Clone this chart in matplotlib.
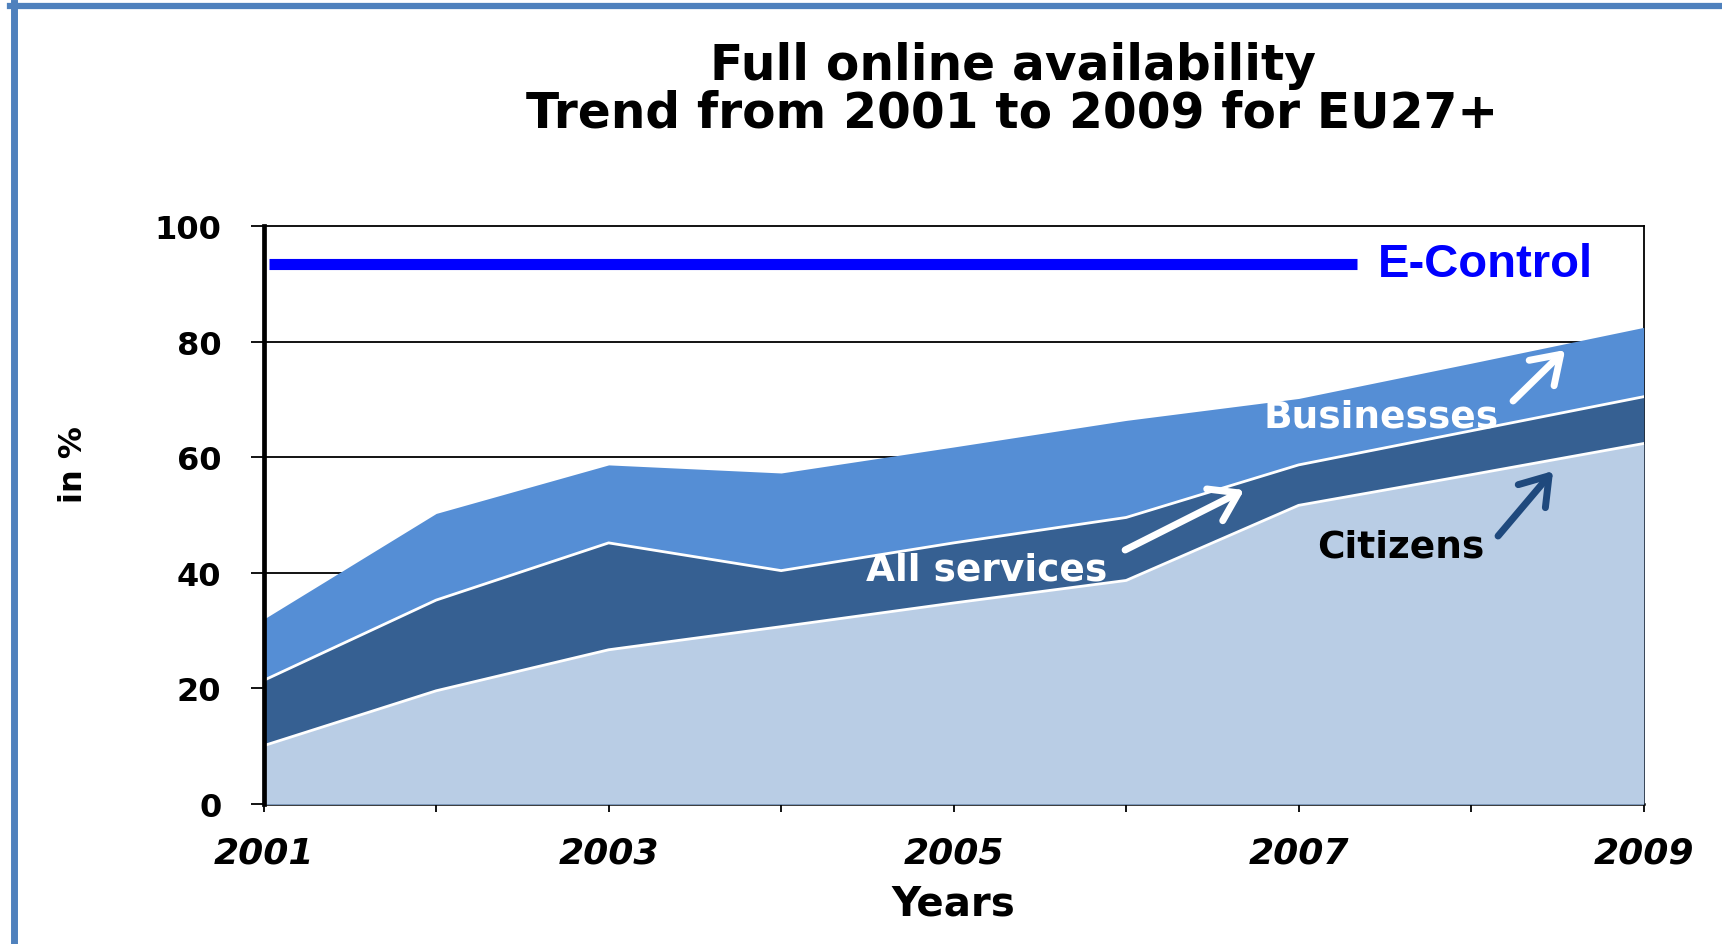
import matplotlib
matplotlib.use("Agg")
import matplotlib.pyplot as plt
from matplotlib.lines import Line2D

years = [2001, 2002, 2003, 2004, 2005, 2006, 2007, 2008, 2009]
businesses = [32.0, 50.3, 58.7, 57.3, 61.8, 66.4, 70.2, 76.3, 82.5]
all_services = [21.4, 35.3, 45.2, 40.4, 45.2, 49.6, 58.7, 64.6, 70.5]
citizens = [10.1, 19.6, 26.7, 30.7, 34.8, 38.7, 51.7, 57.0, 62.4]
econtrol_level = 93.5
econtrol_span = [2001.03, 2007.34]

yticks = [0, 20, 40, 60, 80, 100]
xlabels = ['2001', '', '2003', '', '2005', '', '2007', '', '2009']

c_bus = '#558ED5'
c_all = '#366092'
c_cit = '#B9CDE5'

plt.rcParams['font.family'] = ['DejaVu Sans']
plt.rcParams['font.weight'] = 'bold'

fig = plt.figure(figsize=(17.22, 9.45), dpi=100)
ax = fig.add_axes([0.1531, 0.1481, 0.8014, 0.6114])

# gridlines sit behind the areas
for v in yticks[1:-1]:
    ax.axhline(v, color='black', lw=1.3, zorder=1)

ax.fill_between(years, 0, businesses, color=c_bus, lw=0, zorder=2)
ax.fill_between(years, 0, all_services, color=c_all, lw=0, zorder=3)
ax.plot(years, all_services, color='white', lw=2, zorder=3.5)
ax.fill_between(years, 0, citizens, color=c_cit, lw=0, zorder=4)
ax.plot(years, citizens, color='white', lw=2, zorder=4.5)

ax.plot(econtrol_span, [econtrol_level, econtrol_level], color='#0000FF', lw=8,
        solid_capstyle='butt', zorder=5)
ax.text(2007.46, 91.4, 'E-Control', color='#0000FF', fontsize=34,
        fontweight='bold', family=['Liberation Sans', 'DejaVu Sans'],
        ha='left', va='baseline', zorder=6)

ax.text(2007.48, 65.3, 'Businesses', color='white', fontsize=27,
        fontweight='bold', ha='center', va='baseline', zorder=6)
ax.text(2005.19, 38.95, 'All services', color='white', fontsize=27,
        fontweight='bold', ha='center', va='baseline', zorder=6)
ax.text(2007.59, 42.9, 'Citizens', color='black', fontsize=27,
        fontweight='bold', ha='center', va='baseline', zorder=6)

arrows = [((2008.243, 69.76), (2008.545, 78.59), 'white'),
          ((2005.994, 43.97), (2006.684, 54.35), 'white'),
          ((2008.156, 46.39), (2008.475, 57.64), '#1F497D')]
for tail, head, col in arrows:
    ax.annotate('', xy=head, xytext=tail, zorder=7,
                arrowprops=dict(arrowstyle='->,head_length=0.6,head_width=0.4',
                                lw=5, color=col, mutation_scale=32,
                                shrinkA=0, shrinkB=0))

ax.set_xlim(2001, 2009)
ax.set_ylim(0, 100)
ax.set_xticks(years)
ax.set_xticklabels(xlabels, fontsize=26, fontweight='bold', style='italic')
ax.set_yticks(yticks)
ax.set_yticklabels([str(v) for v in yticks], fontsize=23, fontweight='bold')
ax.tick_params(axis='y', length=9.5, width=1.3, pad=21, color='black')
ax.tick_params(axis='x', length=6, width=1.3, pad=17, color='black')

for s in ['top', 'right', 'bottom']:
    ax.spines[s].set_linewidth(1.3)
    ax.spines[s].set_zorder(1)
ax.spines['left'].set_linewidth(3.4)
ax.spines['left'].set_zorder(8)
ax.spines['bottom'].set_linewidth(1.8)

ax.set_xlabel('Years', fontsize=29, fontweight='bold', labelpad=10)
fig.text(73 / 1722, 1 - 465 / 945, 'in %', fontsize=23, fontweight='bold',
         rotation=90, ha='center', va='center')

fig.text(0.588, 1 - 80 / 945, 'Full online availability', fontsize=35,
         fontweight='bold', ha='center', va='baseline')
fig.text(0.588, 1 - 128 / 945, 'Trend from 2001 to 2009 for EU27+', fontsize=35,
         fontweight='bold', ha='center', va='baseline')

# blue frame around the slide
frame = '#4F81BD'
fig.add_artist(Line2D([13.5 / 1722, 13.5 / 1722], [0, 1 - 4 / 945], color=frame, lw=5))
fig.add_artist(Line2D([10 / 1722, 1], [1 - 7 / 945, 1 - 7 / 945], color=frame, lw=4.5))

fig.savefig('out.png', dpi=100)
